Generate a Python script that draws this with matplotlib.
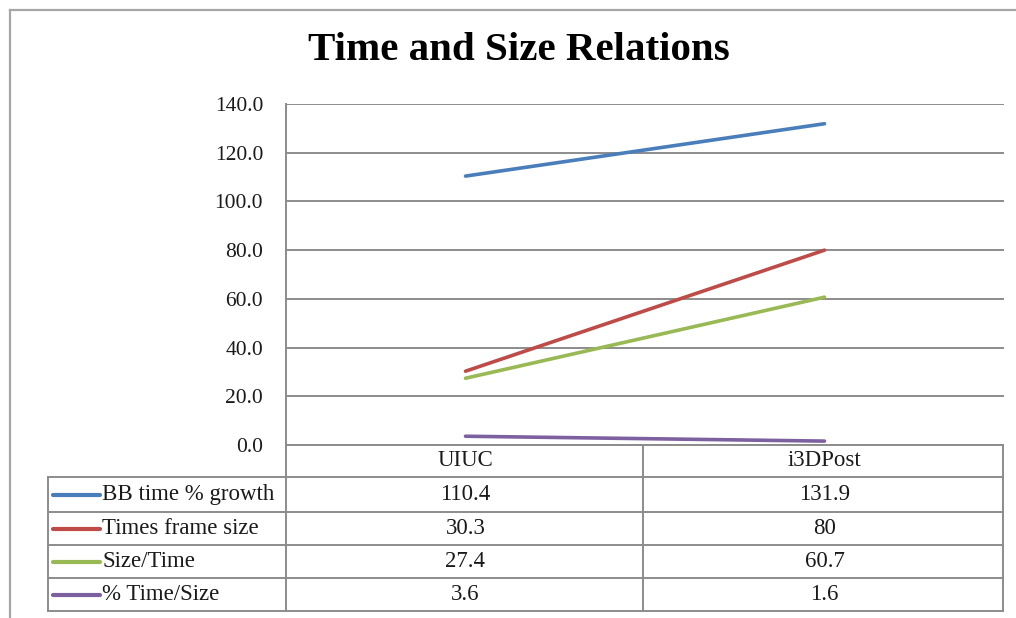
import matplotlib
matplotlib.use("Agg")
import matplotlib.pyplot as plt
from matplotlib.lines import Line2D
from matplotlib.transforms import blended_transform_factory

# --- data -------------------------------------------------------------
categories = ["UIUC", "i3DPost"]
series_names = ["BB time % growth", "Times frame size", "Size/Time", "% Time/Size"]
bb_growth = [110.4, 131.9]
frame_size = [30.3, 80]
size_time = [27.4, 60.7]
time_size = [3.6, 1.6]
series_values = [bb_growth, frame_size, size_time, time_size]
value_labels = [["110.4", "131.9"], ["30.3", "80"], ["27.4", "60.7"], ["3.6", "1.6"]]
colors = ["#4A7EBB", "#BE4B48", "#98B954", "#7D60A0"]
y_ticks = [0, 20, 40, 60, 80, 100, 120, 140]
title = "Time and Size Relations"

# --- figure -----------------------------------------------------------
W, H = 1016, 618
fig = plt.figure(figsize=(W / 100, H / 100), dpi=100)
plt.rcParams["font.family"] = ["Liberation Serif", "DejaVu Serif"]

def fx(px):
    return px / W

def fy(py):
    return 1 - py / H

grid_col = "#8C8C8C"
text_col = "#1a1a1a"

# plot area
left, right, top, bottom = 286, 1004, 104, 445
ax = fig.add_axes([fx(left), fy(bottom), fx(right) - fx(left), fy(top) - fy(bottom)])
xs = list(range(len(categories)))
for vals, col in zip(series_values, colors):
    ax.plot(xs, vals, color=col, lw=2.6, solid_capstyle="round")

ax.set_xlim(-0.5, len(categories) - 0.5)
ax.set_ylim(0, 140)
ax.set_yticks(y_ticks)
ax.set_yticklabels([f"{v:.1f}" for v in y_ticks], fontsize=15.5, color=text_col)
ax.tick_params(axis="y", length=0, pad=16.5)
ax.set_xticks([])
ax.grid(axis="y", color=grid_col, lw=1.4)
ax.set_axisbelow(True)
for s in ["top", "right", "bottom"]:
    ax.spines[s].set_visible(False)
ax.spines["left"].set_color(grid_col)
ax.spines["left"].set_linewidth(1.4)

fig.text(fx(519), fy(51), title, ha="center", va="center",
         fontsize=29.5, fontweight="bold", color="black")

# --- data table -------------------------------------------------------
tbl_left, tbl_right = 48, 1003
row_edges = [445, 477, 512, 545, 578, 611]
col_edges = [left, 643, tbl_right]

def hline(x0, x1, y):
    fig.add_artist(Line2D([fx(x0), fx(x1)], [fy(y), fy(y)], transform=fig.transFigure,
                          color=grid_col, lw=1.4))

def vline(x, y0, y1):
    fig.add_artist(Line2D([fx(x), fx(x)], [fy(y0), fy(y1)], transform=fig.transFigure,
                          color=grid_col, lw=1.4))

hline(left, tbl_right, row_edges[0])
for y in row_edges[1:]:
    hline(tbl_left, tbl_right, y)
vline(tbl_left, row_edges[1], row_edges[-1])
for x in col_edges:
    vline(x, row_edges[0], row_edges[-1])

table_fs = 16.5
xt = blended_transform_factory(ax.transData, fig.transFigure)
cy = (row_edges[0] + row_edges[1]) / 2
for i, cat in enumerate(categories):
    fig.text(i, fy(cy), cat, transform=xt, ha="center", va="center",
             fontsize=table_fs, color=text_col)

for r, (name, col, labels) in enumerate(zip(series_names, colors, value_labels)):
    cy = (row_edges[r + 1] + row_edges[r + 2]) / 2
    fig.add_artist(Line2D([fx(53), fx(100)], [fy(cy), fy(cy)], transform=fig.transFigure,
                          color=col, lw=3, solid_capstyle="round"))
    fig.text(fx(102), fy(cy), name, ha="left", va="center", fontsize=table_fs, color=text_col)
    for i, lab in enumerate(labels):
        fig.text(i, fy(cy), lab, transform=xt, ha="center", va="center",
                 fontsize=table_fs, color=text_col)

# chart frame
frame_col = "#A6A6A6"
fig.add_artist(Line2D([fx(9.5), fx(9.5)], [fy(10), fy(H)], transform=fig.transFigure,
                      color=frame_col, lw=1.6))
fig.add_artist(Line2D([fx(9.5), fx(W)], [fy(10), fy(10)], transform=fig.transFigure,
                      color=frame_col, lw=1.6))

fig.savefig("out.png", dpi=100)
